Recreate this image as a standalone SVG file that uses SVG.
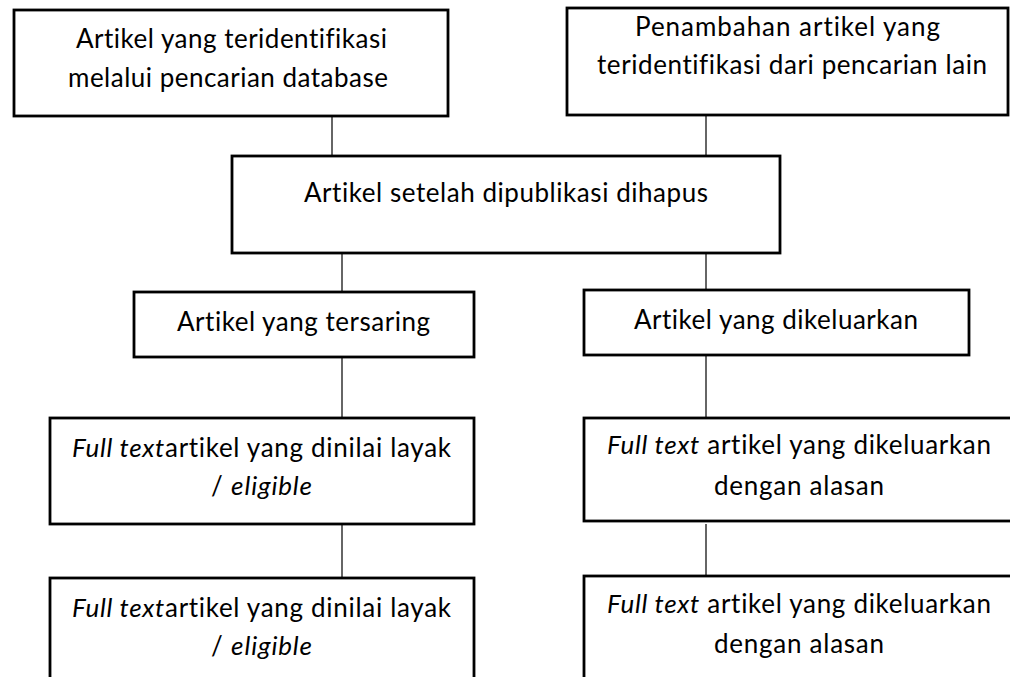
<svg xmlns="http://www.w3.org/2000/svg" width="1010" height="677" viewBox="0 0 1010 677">
<style>
.box{fill:#fff;stroke:#000;stroke-width:2.8}
.t{font-family:Lato,"Open Sans","Liberation Sans",sans-serif;font-size:26px;fill:#000;font-variant-ligatures:none}
.i{font-style:italic}
.c{stroke:#333;stroke-width:1.5;fill:none}
</style>
<rect width="1010" height="677" fill="#fff"/>
<g id="connectors">
<line class="c" x1="332" y1="116" x2="332" y2="156"/>
<line class="c" x1="706" y1="115" x2="706" y2="156"/>
<line class="c" x1="342" y1="253" x2="342" y2="292"/>
<line class="c" x1="706" y1="253" x2="706" y2="290"/>
<line class="c" x1="342" y1="357" x2="342" y2="418"/>
<line class="c" x1="706" y1="355" x2="706" y2="418"/>
<line class="c" x1="342" y1="524" x2="342" y2="578"/>
<line class="c" x1="706" y1="524" x2="706" y2="576"/>
</g>
<g id="n1">
<rect class="box" x="14" y="10" width="434" height="106"/>
<text class="t" x="76" y="48" textLength="311">Artikel yang teridentifikasi</text>
<text class="t" x="68" y="87" textLength="320">melalui pencarian database</text>
</g>
<g id="n2">
<rect class="box" x="567" y="8" width="441" height="107"/>
<text class="t" x="635" y="36" textLength="305">Penambahan artikel yang</text>
<text class="t" x="597" y="74" textLength="390">teridentifikasi dari pencarian lain</text>
</g>
<g id="n3">
<rect class="box" x="232" y="156" width="548" height="97"/>
<text class="t" x="304" y="202" textLength="404">Artikel setelah dipublikasi dihapus</text>
</g>
<g id="n4">
<rect class="box" x="134" y="292" width="340" height="65"/>
<text class="t" x="177" y="331" textLength="253">Artikel yang tersaring</text>
</g>
<g id="n5">
<rect class="box" x="584" y="290" width="385" height="65"/>
<text class="t" x="634" y="329" textLength="284">Artikel yang dikeluarkan</text>
</g>
<g id="n6">
<rect class="box" x="50" y="418" width="424" height="106"/>
<text class="t" x="72" y="457" textLength="379"><tspan class="i">Full text</tspan>artikel yang dinilai layak</text>
<text class="t" x="211" y="495" textLength="101">/ <tspan class="i">eligible</tspan></text>
</g>
<g id="n7">
<rect class="box" x="584" y="418" width="430" height="103"/>
<text class="t" x="607" y="454" textLength="384"><tspan class="i">Full text</tspan> artikel yang dikeluarkan</text>
<text class="t" x="714" y="495" textLength="170">dengan alasan</text>
</g>
<g id="n8">
<rect class="box" x="50" y="578" width="424" height="120"/>
<text class="t" x="72" y="617" textLength="379"><tspan class="i">Full text</tspan>artikel yang dinilai layak</text>
<text class="t" x="211" y="655" textLength="101">/ <tspan class="i">eligible</tspan></text>
</g>
<g id="n9">
<rect class="box" x="584" y="576" width="430" height="120"/>
<text class="t" x="607" y="613" textLength="384"><tspan class="i">Full text</tspan> artikel yang dikeluarkan</text>
<text class="t" x="714" y="653" textLength="170">dengan alasan</text>
</g>
</svg>
